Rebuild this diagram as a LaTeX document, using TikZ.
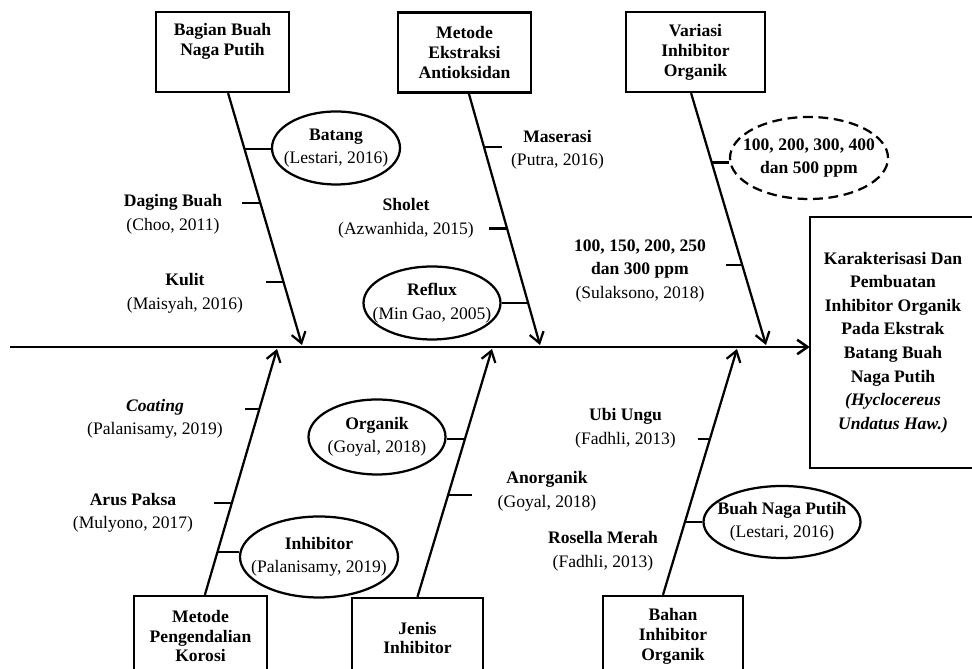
\documentclass[tikz,border=0pt]{standalone}
\usepackage{fontspec}
\setmainfont{Liberation Serif}
\usepackage{tikz}
\usetikzlibrary{shapes.geometric}
\usetikzlibrary{arrows.meta}

\begin{document}
\begin{tikzpicture}[
  every node/.style={font=\fontsize{12.5}{16.7}\selectfont, align=center},
  box/.style={draw, line width=1.7pt, minimum width=3.325cm, minimum height=2cm,
    font=\fontsize{12.5}{14.2}\selectfont\bfseries},
  oval/.style={draw, ellipse, line width=1.6pt, inner xsep=-0.5cm, inner ysep=-0.2cm},
  bone/.style={line width=1.6pt, -{Straight Barb[length=2.6mm,width=3.6mm]}},
  tick/.style={line width=1.6pt}]
\useasboundingbox (0,0) rectangle (24.3,16.725);
\clip (0,0) rectangle (24.3,16.725);

\node[box] (b1) at (5.5625,15.425) {Bagian Buah\\Naga Putih\\\strut};
\node[box] (b2) at (11.6125,15.4125) {Metode\\Ekstraksi\\Antioksidan};
\node[box, minimum width=3.475cm] (b3) at (17.3875,15.425) {Variasi\\Inhibitor\\Organik};
\node[box] (b4) at (5.0125,0.825) {Metode\\Pengendalian\\Korosi};
\node[box, minimum width=3.275cm] (b5) at (10.4375,0.775) {Jenis\\Inhibitor};
\node[box, minimum width=3.5cm] (b6) at (16.825,0.825) {Bahan\\Inhibitor\\Organik};
\node[box, draw=none, minimum width=4.1cm, minimum height=6.225cm,
  font=\fontsize{12.5}{16.8}\selectfont\bfseries] (goal) at (22.325,8.1625)
  {Karakterisasi Dan\\Pembuatan\\Inhibitor Organik\\Pada Ekstrak\\Batang Buah\\Naga Putih\\
   \textit{(Hyclocereus}\\\textit{Undatus Haw.)}};
\draw[line width=1.7pt] (goal.north west) rectangle ([xshift=6mm]goal.south east);

\node[oval, minimum width=3.2cm, minimum height=1.825cm] (batang) at (8.4,13.025)
  {\textbf{Batang}\\(Lestari, 2016)};
\node[oval, minimum width=3.425cm, minimum height=1.825cm] (reflux) at (10.8,9.15)
  {\textbf{Reflux}\\(Min Gao, 2005)};
\node[oval, dash pattern=on 7pt off 4pt, minimum width=3.95cm, minimum height=2.05cm] (ppm)
  at (20.225,12.775) {\textbf{100, 200, 300, 400}\\\textbf{dan 500 ppm}};
\node[oval, minimum width=3.95cm, minimum height=2.025cm] (inhib) at (7.975,2.8)
  {\textbf{Inhibitor}\\(Palanisamy, 2019)};
\node[oval, minimum width=3.425cm, minimum height=1.875cm] (organik) at (9.425,5.8)
  {\textbf{Organik}\\(Goyal, 2018)};
\node[oval, minimum width=3.925cm, minimum height=1.8cm] (buah) at (19.55,3.675)
  {\textbf{Buah Naga Putih}\\(Lestari, 2016)};

\node (daging) at (4.325,11.3625) {\textbf{Daging Buah}\\(Choo, 2011)};
\node (kulit) at (4.625,9.3875) {\textbf{Kulit}\\(Maisyah, 2016)};
\node (maserasi) at (13.9375,12.975) {\textbf{Maserasi}\\(Putra, 2016)};
\node (sholet) at (10.15,11.2625) {\textbf{Sholet}\\(Azwanhida, 2015)};
\node (ppmb) at (16.0,9.95) {\textbf{100, 150, 200, 250}\\\textbf{dan 300 ppm}\\(Sulaksono, 2018)};
\node (coating) at (3.875,6.25) {\textbf{\textit{Coating}}\\(Palanisamy, 2019)};
\node (arus) at (3.325,3.9) {\textbf{Arus Paksa}\\(Mulyono, 2017)};
\node (anorganik) at (13.675,4.4375) {\textbf{Anorganik}\\(Goyal, 2018)};
\node (ubi) at (15.6375,6.0125) {\textbf{Ubi Ungu}\\(Fadhli, 2013)};
\node (rosella) at (15.075,2.9375) {\textbf{Rosella Merah}\\(Fadhli, 2013)};

\coordinate (tail) at (0.25,8.05);
\coordinate (t1) at (7.55,8.1);
\coordinate (t2) at (13.5,8.1);
\coordinate (t3) at (19.15,8.1);
\coordinate (t4) at (6.925,8.0);
\coordinate (t5) at (12.3,8.0);
\coordinate (t6) at (18.425,8.0);

\draw[bone, line width=1.8pt] (tail) -- (tail -| goal.west);

\draw[bone] ([xshift=1.4mm]b1.south) -- (t1)
  coordinate[pos=0.221] (k1a) coordinate[pos=0.435] (k1b) coordinate[pos=0.751] (k1c);
\draw[bone] ([xshift=1.1mm]b2.south) -- (t2)
  coordinate[pos=0.212] (k2a) coordinate[pos=0.536] (k2b) coordinate[pos=0.832] (k2c);
\draw[bone] ([xshift=-1.1mm]b3.south) -- (t3)
  coordinate[pos=0.275] (k3a) coordinate[pos=0.681] (k3b);
\draw[bone] ([xshift=1.1mm]b4.north) -- (t4)
  coordinate[pos=0.173] (k4a) coordinate[pos=0.373] (k4b) coordinate[pos=0.755] (k4c);
\draw[bone] (b5.north) -- (t5)
  coordinate[pos=0.411] (k5a) coordinate[pos=0.636] (k5b);
\draw[bone] ([xshift=-2.5mm]b6.north) -- (t6)
  coordinate[pos=0.297] (k6a) coordinate[pos=0.635] (k6b);

\draw[tick] (k1a) -- (k1a -| batang.west);
\draw[tick] (k1b) -- ++(-0.45,0);
\draw[tick] (k1c) -- ++(-0.45,0);
\draw[tick] (k2a) -- ++(0.45,0);
\draw[tick] (k2b) -- ++(-0.45,0);
\draw[tick] (k2c) -- (k2c -| reflux.east);
\draw[tick] (k3a) -- (k3a -| ppm.west);
\draw[tick] (k3b) -- ++(-0.4,0);
\draw[tick] (k4a) -- (k4a -| inhib.west);
\draw[tick] (k4b) -- ++(-0.45,0);
\draw[tick] (k4c) -- ++(-0.35,0);
\draw[tick] (k5a) -- ++(0.6,0);
\draw[tick] (k5b) -- (k5b -| organik.east);
\draw[tick] (k6a) -- (k6a -| buah.west);
\draw[tick] (k6b) -- ++(-0.3,0);
\end{tikzpicture}
\end{document}
